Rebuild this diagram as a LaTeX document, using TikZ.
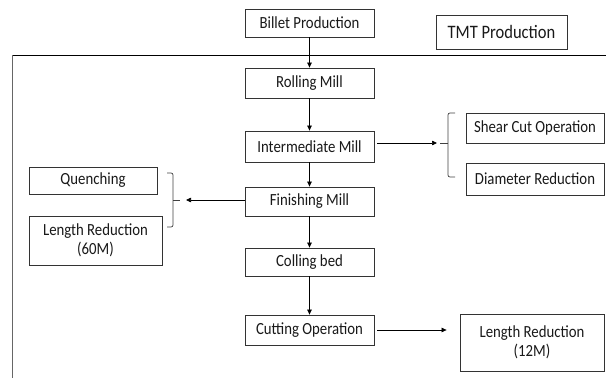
\documentclass[tikz,border=0pt]{standalone}
\usepackage{fontspec}
\setmainfont{Carlito}[FakeStretch=0.87]
\usetikzlibrary{arrows.meta}

\tikzset{
  stagebox/.style={draw=black!80, line width=0.8pt, fill=white, text=black!90,
    inner sep=0pt, align=center, font=\fontsize{17}{19}\selectfont},
  flow/.style={draw=black, line width=0.7pt,
    -{Triangle[length=5pt,width=4.5pt]}},
  bracket/.style={draw=black!75, line width=0.7pt, rounded corners=2pt},
}

\begin{document}
\begin{tikzpicture}[x=1pt,y=-1pt]
\useasboundingbox (0,0) rectangle (606,378);

% enclosing frame of the production line
\draw[black, line width=0.9pt] (12,55) -- (606,55);
\draw[black!60, line width=1.6pt] (12.5,55) -- (12.5,378);

% main process chain
\node[stagebox, minimum width=129pt, minimum height=28pt] (billet) at (309.5,23) {Billet Production};
\node[stagebox, minimum width=129pt, minimum height=30pt] (roll) at (309.5,83) {Rolling Mill};
\node[stagebox, minimum width=129pt, minimum height=31pt] (inter) at (309.5,146.5) {Intermediate Mill};
\node[stagebox, minimum width=129pt, minimum height=29pt] (finish) at (309.5,201.5) {Finishing Mill};
\node[stagebox, minimum width=129pt, minimum height=28pt] (cool) at (309.5,262) {Colling bed};
\node[stagebox, minimum width=129pt, minimum height=30pt] (cut) at (309.5,330) {Cutting Operation};

% title
\node[stagebox, minimum width=131pt, minimum height=34pt, font=\fontsize{19}{21}\selectfont] (title) at (501.5,32) {TMT Production};

% side operations
\node[stagebox, minimum width=138pt, minimum height=30pt] (shear) at (535,128) {Shear Cut Operation};
\node[stagebox, minimum width=138pt, minimum height=32pt] (diam) at (535,179) {Diameter Reduction};
\node[stagebox, minimum width=128pt, minimum height=27pt] (quench) at (93,180.5) {Quenching};
\node[stagebox, minimum width=133pt, minimum height=49pt] (len60) at (95.5,240.5) {Length Reduction\\(60M)};
\node[stagebox, minimum width=144pt, minimum height=57pt] (len12) at (532,342.5) {Length Reduction\\(12M)};

% vertical flow
\draw[flow] (billet) -- (roll);
\draw[flow] (roll) -- (inter);
\draw[flow] (inter) -- (finish);
\draw[flow] (finish) -- (cool);
\draw[flow] (cool) -- (cut);

% bracket grouping shear cut and diameter reduction
\coordinate (rtip) at (437,143);
\draw[bracket] (455,113) -- (448,113) -- (448,177) -- (455,177);
\draw[black!75, line width=0.7pt] (448,143) -- (440,143);
\draw[flow, shorten <=3pt] (inter.east |- rtip) -- (rtip);

% bracket grouping quenching and 60M length reduction
\coordinate (ltip) at (186,200);
\draw[bracket] (167,173) -- (173,173) -- (173,227) -- (167,227);
\draw[black!75, line width=0.7pt] (173,200) -- (180,200);
\draw[flow] (finish.west |- ltip) -- (ltip);

% cutting to final length
\draw[flow, shorten <=3pt, shorten >=13pt] (cut.east) -- (cut.east -| len12.west);
\end{tikzpicture}
\end{document}
